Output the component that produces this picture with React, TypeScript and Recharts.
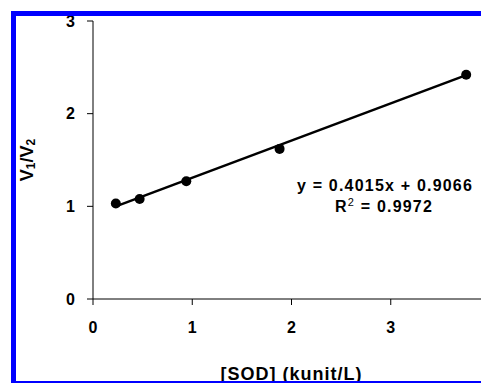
import React from 'react';
import { ComposedChart, Line, Scatter, XAxis, YAxis } from 'recharts';

const sodConc = [0.23, 0.47, 0.94, 1.88, 3.76];
const ratio = [1.03, 1.08, 1.27, 1.62, 2.42];
const trendX = [0.23, 3.76];
const trendY = [0.999, 2.416];
const xTicks = [0, 1, 2, 3];
const yTicks = [0, 1, 2, 3];

const points = sodConc.map((x, i) => ({ x, y: ratio[i] }));
const trend = trendX.map((x, i) => ({ x, y: trendY[i] }));

const FONT = '"Liberation Sans", Arial, sans-serif';
const BLUE = '#0000ff';

const YLabel = ({ viewBox }: any) => {
  const cx = viewBox.x + 17;
  const cy = viewBox.y + viewBox.height / 2;
  return (
    <text
      x={cx}
      y={cy}
      transform={`rotate(-90, ${cx}, ${cy})`}
      textAnchor="middle"
      dominantBaseline="central"
      fontFamily={FONT}
      fontWeight="bold"
      fontSize={18}
      fill="#000"
    >
      V<tspan fontSize={12} dy={4}>1</tspan>
      <tspan dy={-4}>/V</tspan>
      <tspan fontSize={12} dy={4}>2</tspan>
    </text>
  );
};

const XLabel = ({ viewBox }: any) => (
  <text
    x={viewBox.x + viewBox.width / 2}
    y={380}
    textAnchor="middle"
    fontFamily={FONT}
    fontWeight="bold"
    fontSize={18}
    letterSpacing={1}
    fill="#000"
  >
    [SOD] (kunit/L)
  </text>
);

export default function App() {
  return (
    <div
      style={{
        position: 'absolute',
        left: 0,
        top: 0,
        width: 481,
        height: 383,
        overflow: 'hidden',
        background: '#fff',
      }}
    >
      <ComposedChart
        width={500}
        height={383}
        margin={{ top: 21, right: 10, bottom: 24, left: 10 }}
      >
        <XAxis
          type="number"
          dataKey="x"
          domain={[0, 4]}
          ticks={xTicks}
          height={60}
          stroke="#000"
          tickSize={6}
          tickMargin={17}
          tick={{ fill: '#000', fontSize: 16, fontWeight: 'bold', fontFamily: FONT }}
          label={<XLabel />}
        />
        <YAxis
          type="number"
          dataKey="y"
          domain={[0, 3]}
          ticks={yTicks}
          width={83}
          stroke="#000"
          tickSize={6}
          tickMargin={12}
          tick={{ fill: '#000', fontSize: 16, fontWeight: 'bold', fontFamily: FONT }}
          label={<YLabel />}
        />
        <Line
          data={trend}
          dataKey="y"
          type="linear"
          stroke="#000"
          strokeWidth={2.5}
          dot={false}
          activeDot={false}
          isAnimationActive={false}
        />
        <Scatter
          data={points}
          dataKey="y"
          fill="#000"
          shape={(p: any) => <circle cx={p.cx} cy={p.cy} r={5} fill="#000" />}
          isAnimationActive={false}
        />
        <g fontFamily={FONT} fontWeight="bold" fontSize={16} fill="#000" letterSpacing={1.2}>
          <text x={385} y={191} textAnchor="middle">
            y = 0.4015x  + 0.9066
          </text>
          <text x={384} y={212} textAnchor="middle">
            R<tspan fontSize={11} fontWeight="normal" dy={-6}>2</tspan>
            <tspan dy={6}> = 0.9972</tspan>
          </text>
        </g>
      </ComposedChart>
      <div style={{ position: 'absolute', left: 11, top: 11, width: 470, height: 5, background: BLUE }} />
      <div style={{ position: 'absolute', left: 11, top: 11, width: 5, height: 372, background: BLUE }} />
      <div style={{ position: 'absolute', left: 11, top: 381, width: 470, height: 2, background: BLUE }} />
    </div>
  );
}
